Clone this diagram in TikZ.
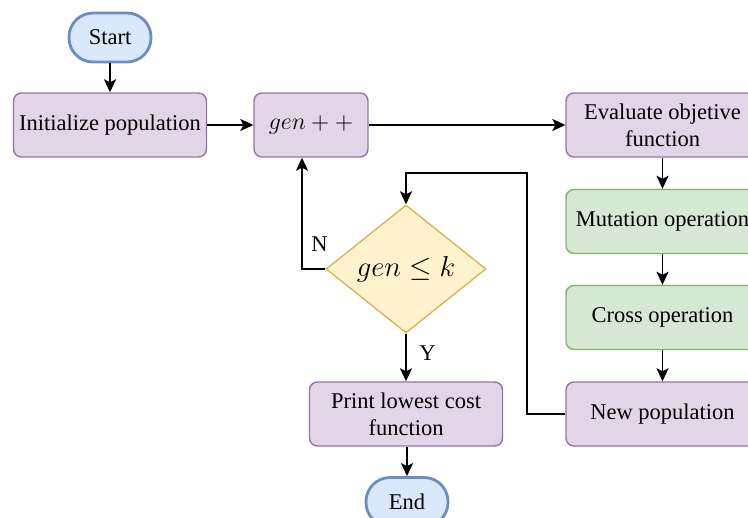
\documentclass[tikz,border=0pt]{standalone}
\usepackage{fontspec}
\setmainfont{Liberation Serif}
\usetikzlibrary{shapes.geometric,arrows.meta}

\definecolor{purplefill}{HTML}{E1D5E7}
\definecolor{purpleline}{HTML}{9673A6}
\definecolor{greenfill}{HTML}{D5E8D4}
\definecolor{greenline}{HTML}{82B366}
\definecolor{bluefill}{HTML}{DAE8FC}
\definecolor{blueline}{HTML}{6C8EBF}
\definecolor{yellowfill}{HTML}{FFF2CC}
\definecolor{yellowline}{HTML}{D6B656}

\newlength{\boxwidth}
\setlength{\boxwidth}{96.5pt}

\begin{document}
\begin{tikzpicture}[x=0.5pt,y=-0.5pt,
    every node/.style={font=\fontsize{11.25}{13.5}\selectfont},
    process/.style={rectangle, rounded corners=4pt, draw=purpleline, fill=purplefill,
        line width=0.7pt, minimum width=\boxwidth, minimum height=32pt,
        align=center, inner sep=2pt},
    operation/.style={process, draw=greenline, fill=greenfill},
    terminal/.style={rectangle, rounded corners=12pt, draw=blueline, fill=bluefill,
        line width=1.4pt, minimum width=41pt, minimum height=24.5pt},
    decision/.style={diamond, draw=yellowline, fill=yellowfill, line width=0.7pt,
        aspect=1.25, minimum width=80pt, minimum height=64pt, inner sep=0pt},
    flow/.style={line width=0.8pt, -{Stealth[length=6.5pt,width=6pt,inset=1.5pt]}}]

    \clip (0,0) rectangle (748,518);

    % nodes
    \node[terminal] (start) at (110,37.5) {Start};
    \node[process] (init) at (110,125) {Initialize population};
    \node[process, minimum width=57pt] (gen) at (311,125)
        {\fontsize{12.5}{14}\selectfont$gen++$};
    \node[process] (eval) at (662.5,125) {Evaluate objetive\\function};
    \node[operation] (mutation) at (662.5,221.5) {Mutation operation};
    \node[operation] (cross) at (662.5,317.5) {Cross operation};
    \node[process] (newpop) at (662.5,414) {New population};
    \node[decision] (check) at (406,269) {\fontsize{14}{16}\selectfont$gen \leq k$};
    \node[process] (print) at (406,414) {Print lowest cost\\function};
    \node[terminal] (end) at (407,502) {End};
    \coordinate (loop) at (527,173);

    % connectors
    \draw[flow] (start) -- (init);
    \draw[flow] (init) -- (gen);
    \draw[flow] (gen) -- (eval);
    \draw[flow] (eval) -- (mutation);
    \draw[flow] (mutation) -- (cross);
    \draw[flow] (cross) -- (newpop);
    \draw[flow] (newpop.west) -| (loop) -| (check.north);
    \draw[flow] (check.west) -| ([xshift=-4.5pt]gen.south)
        node[pos=0.61, right=1pt] {N};
    \draw[flow] (check.south) -- (print) node[pos=0.4, right=3pt] {Y};
    \draw[flow] (print.south -| end) -- (end);
\end{tikzpicture}
\end{document}
